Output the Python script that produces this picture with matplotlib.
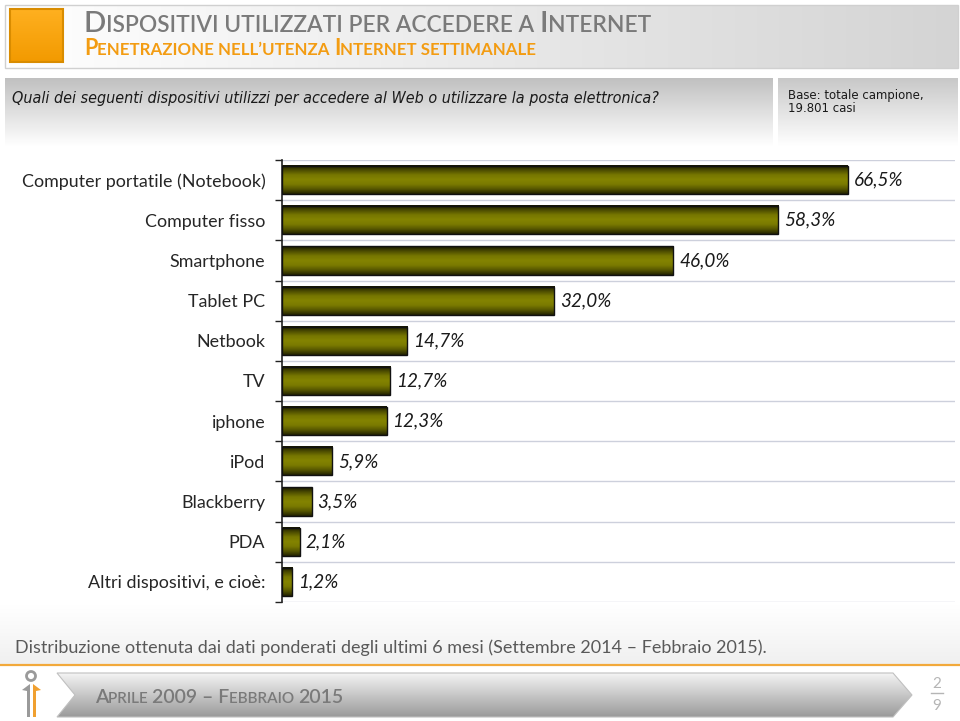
import numpy as np
import matplotlib
matplotlib.use("Agg")
import matplotlib.pyplot as plt
from matplotlib.colors import LinearSegmentedColormap
from matplotlib.patches import Rectangle, Polygon

# ---------------- data ----------------
categories = ["Computer portatile (Notebook)", "Computer fisso", "Smartphone", "Tablet PC",
              "Netbook", "TV", "iphone", "iPod", "Blackberry", "PDA", "Altri dispositivi, e cioè:"]
values = [66.5, 58.3, 46.0, 32.0, 14.7, 12.7, 12.3, 5.9, 3.5, 2.1, 1.2]
value_labels = ["66,5%", "58,3%", "46,0%", "32,0%", "14,7%", "12,7%", "12,3%", "5,9%", "3,5%", "2,1%", "1,2%"]

title_parts = [("D", "big"), ("ISPOSITIVI UTILIZZATI PER ACCEDERE A ", "small"), ("I", "big"), ("NTERNET", "small")]
subtitle_parts = [("P", "big"), ("ENETRAZIONE NELL\u2019UTENZA ", "small"), ("I", "big"), ("NTERNET SETTIMANALE", "small")]
question = "Quali dei seguenti dispositivi utilizzi per accedere al Web o utilizzare la posta elettronica?"
base_text = "Base: totale campione,\n19.801 casi"
footnote = "Distribuzione ottenuta dai dati ponderati degli ultimi 6 mesi (Settembre 2014 \u2013 Febbraio 2015)."
period_parts = [("A", "big"), ("PRILE ", "small"), ("2009 \u2013 F", "big"), ("EBBRAIO ", "small"), ("2015", "big")]

W, H = 960, 721
FONT = "Lato"
fig = plt.figure(figsize=(W / 100, H / 100), dpi=100)
fig.patch.set_facecolor("white")

# background axes in pixel coords
bg = fig.add_axes([0, 0, 1, 1])
bg.set_xlim(0, W)
bg.set_ylim(H, 0)
bg.axis("off")
bg.set_zorder(0)


def grad_box(x0, y0, x1, y1, c_start, c_end, direction="v", edge=None, clip=None):
    cmap = LinearSegmentedColormap.from_list("g", [c_start, c_end])
    if direction == "v":
        arr = np.linspace(0, 1, 256).reshape(-1, 1)
    else:
        arr = np.linspace(0, 1, 256).reshape(1, -1)
    im = bg.imshow(arr, extent=[x0, x1, y1, y0], cmap=cmap, aspect="auto", origin="upper", zorder=1)
    if clip is not None:
        im.set_clip_path(clip)
    elif edge is not None:
        r = Rectangle((x0, y0), x1 - x0, y1 - y0, fill=False, edgecolor=edge, lw=1, zorder=2)
        bg.add_patch(r)
    return im


# header
grad_box(5, 5, 958, 68, "#ffffff", "#d4d4d4", direction="h", edge="#d0d0d0")
sq = Rectangle((10, 9), 53, 53, facecolor="none", edgecolor="#d98c00", lw=1.5, zorder=3)
bg.add_patch(sq)
grad_box(10, 9, 63, 62, "#ffb020", "#f29a00", direction="v", clip=sq)

# question bands
grad_box(5, 78, 773, 146, "#c0c0c0", "#ffffff", direction="v")
grad_box(778, 78, 958, 146, "#c8c8c8", "#ffffff", direction="v")
bg.text(12, 98, question, fontsize=11.5, style="italic", family="DejaVu Sans", color="#1a1a1a",
        va="center", ha="left", zorder=4, fontstretch="condensed")
bg.text(788, 102, base_text, fontsize=9.4, family="DejaVu Sans", color="#1a1a1a",
        va="center", ha="left", zorder=4, linespacing=0.9, fontstretch="condensed")

# footer background
grad_box(0, 605, 960, 664, "#ffffff", "#f0f0f0", direction="v")
bg.plot([0, 960], [665, 665], color="#f2a93b", lw=1.6, zorder=3)
bg.text(15, 648, footnote, fontsize=13, family=FONT, color="#595959", va="center", ha="left", zorder=4)

# arrow banner
arrow = Polygon([(57, 673), (893, 673), (912, 695), (893, 717), (57, 717), (75, 695)],
                closed=True, facecolor="none", edgecolor="#c0c0c0", lw=0.8, zorder=3)
bg.add_patch(arrow)
grad_box(57, 673, 912, 717, "#f4f4f4", "#9a9a9a", direction="v", clip=arrow)

# page number
bg.text(937, 684, "2", fontsize=11, family=FONT, color="#b5b5b5", ha="center", va="center", zorder=4)
bg.plot([931, 943], [693, 693], color="#b5b5b5", lw=1, zorder=4)
bg.text(937, 706, "9", fontsize=11, family=FONT, color="#b5b5b5", ha="center", va="center", zorder=4)

# icon
circ = matplotlib.patches.Circle((31, 676), 4.5, fill=False, edgecolor="#9a9a9a", lw=2, zorder=4)
bg.add_patch(circ)
bg.add_patch(Polygon([(22, 690), (30, 684), (30, 717), (27, 717), (27, 691)], closed=True,
                     facecolor="#9a9a9a", edgecolor="none", zorder=4))
bg.add_patch(Polygon([(41, 690), (33, 684), (33, 717), (36, 717), (36, 691)], closed=True,
                     facecolor="#f0a030", edgecolor="none", zorder=4))

# ---------- small-caps helper ----------
fig.canvas.draw()
renderer = fig.canvas.get_renderer()


def small_caps(x_px, y_px, parts, big, small, color, weight="normal"):
    x = x_px
    for s, kind in parts:
        t = fig.text(x / W, 1 - y_px / H, s, fontsize=big if kind == "big" else small,
                     color=color, family=FONT, weight=weight, va="baseline", ha="left", zorder=5)
        bb = t.get_window_extent(renderer)
        x = bb.x1


small_caps(84, 32, title_parts, 21.2, 16.4, "#7a7a7a", weight="semibold")
small_caps(84, 55, subtitle_parts, 15.6, 12.2, "#F39C12", weight="bold")
small_caps(95, 703, period_parts, 14, 11, "#7a7a7a", weight="semibold")

# ---------------- bar chart ----------------
ax_left, ax_right, ax_top, ax_bottom = 282, 955, 160, 602
ax = fig.add_axes([ax_left / W, 1 - ax_bottom / H, (ax_right - ax_left) / W, (ax_bottom - ax_top) / H])
ax.set_zorder(2)
ax.patch.set_alpha(0)

n = len(categories)
ypos = np.arange(n)
bar_h = 0.7
bar_cmap = LinearSegmentedColormap.from_list(
    "olive", ["#141400", "#4a4a00", "#767600", "#838300", "#7a7a00", "#555500", "#222200"])
grad = np.linspace(0, 1, 128).reshape(-1, 1)
for y, v in zip(ypos, values):
    ax.imshow(grad, extent=[0, v, y + bar_h / 2, y - bar_h / 2], cmap=bar_cmap,
              aspect="auto", origin="upper", zorder=2, interpolation="bilinear")
ax.barh(ypos, values, height=bar_h, facecolor="none", edgecolor="#111111", lw=1, zorder=3)

xmax = (ax_right - ax_left) / 8.51
ax.set_xlim(0, xmax)
ax.set_ylim(n - 0.5, -0.5)

for y in np.arange(-0.5, n, 1.0):
    ax.axhline(y, color="#cdd0dc", lw=1, zorder=1)

for y, v, lab in zip(ypos, values, value_labels):
    ax.annotate(lab, xy=(v, y), xytext=(4, 0), textcoords="offset points", va="center", ha="left",
                fontsize=13.6, style="italic", family=FONT, color="#1a1a1a", zorder=4)

ax.set_yticks(ypos)
ax.set_yticklabels(categories, fontsize=12.9, family=FONT, color="#262626")
ax.tick_params(axis="y", which="major", length=0, pad=12)
ax.set_yticks(np.arange(-0.5, n, 1.0), minor=True)
ax.tick_params(axis="y", which="minor", length=5, width=1, color="#222222", direction="out")
ax.set_xticks([])
for s in ["top", "right", "bottom"]:
    ax.spines[s].set_visible(False)
ax.spines["left"].set_color("#222222")
ax.spines["left"].set_linewidth(1.2)

fig.savefig("out.png", dpi=100, facecolor="white")
